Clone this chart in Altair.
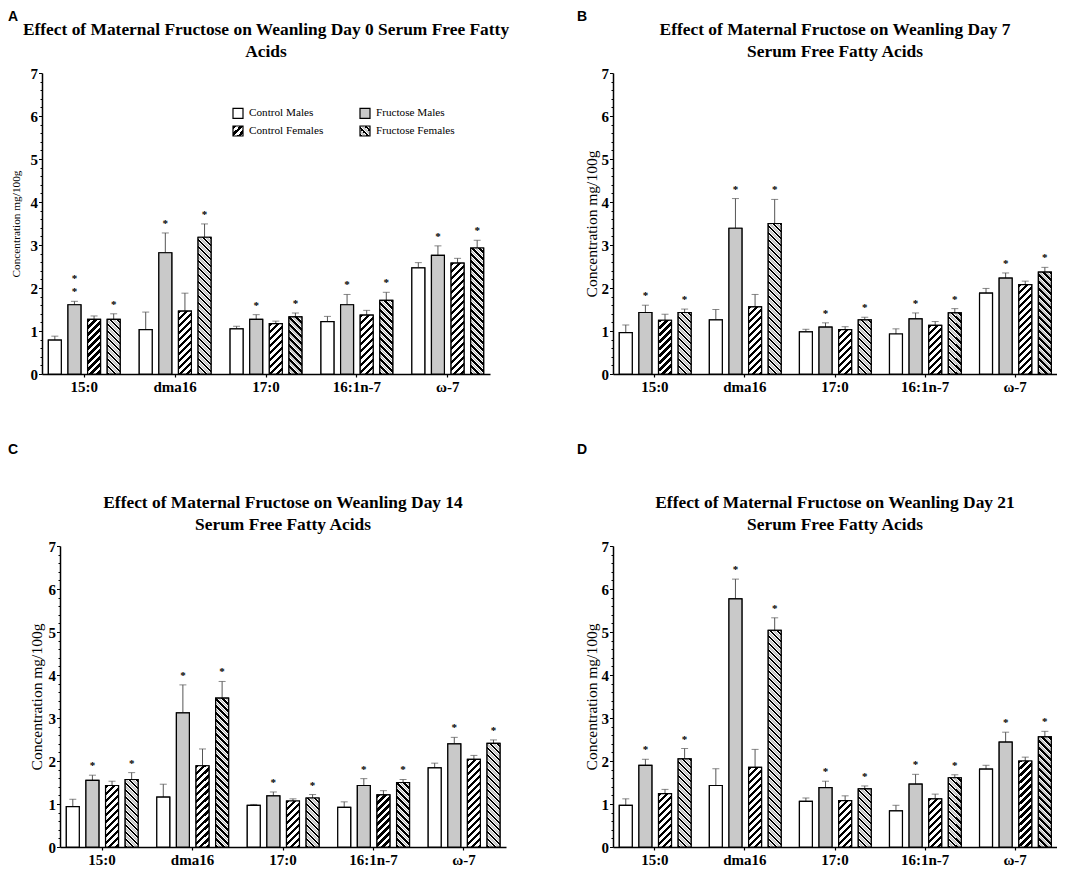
import altair as alt

SERIF = "Liberation Serif"
SANS = "Liberation Sans"
GRAY = "#c9c9c9"
ERR = "#555555"

categories = ["15:0", "dma16", "17:0", "16:1n-7", "ω-7"]
groups = ["Control Males", "Fructose Males", "Control Females", "Fructose Females"]
legend_order = ["Control Males", "Control Females", "Fructose Males", "Fructose Females"]

# rows follow `groups`, columns follow `categories`
day0_means = [[0.79, 1.03, 1.05, 1.22, 2.47],
              [1.61, 2.82, 1.27, 1.61, 2.76],
              [1.27, 1.46, 1.17, 1.37, 2.58],
              [1.27, 3.18, 1.33, 1.71, 2.93]]
day0_sems = [[0.09, 0.41, 0.06, 0.12, 0.12],
             [0.08, 0.46, 0.11, 0.24, 0.22],
             [0.08, 0.42, 0.06, 0.11, 0.11],
             [0.13, 0.31, 0.09, 0.19, 0.18]]
# number of significance asterisks
day0_sig = [[0, 0, 0, 0, 0],
            [2, 1, 1, 1, 1],
            [0, 0, 0, 0, 0],
            [1, 1, 1, 1, 1]]

day7_means = [[0.96, 1.26, 0.98, 0.93, 1.88],
              [1.43, 3.39, 1.09, 1.28, 2.23],
              [1.25, 1.56, 1.03, 1.13, 2.08],
              [1.43, 3.50, 1.26, 1.42, 2.37]]
day7_sems = [[0.18, 0.24, 0.06, 0.12, 0.11],
             [0.17, 0.69, 0.10, 0.14, 0.12],
             [0.14, 0.29, 0.07, 0.09, 0.08],
             [0.08, 0.56, 0.06, 0.10, 0.11]]
day7_sig = [[0, 0, 0, 0, 0],
            [1, 1, 1, 1, 1],
            [0, 0, 0, 0, 0],
            [1, 1, 1, 1, 1]]

day14_means = [[0.94, 1.16, 0.97, 0.92, 1.84],
               [1.55, 3.12, 1.19, 1.43, 2.40],
               [1.43, 1.89, 1.07, 1.21, 2.04],
               [1.57, 3.46, 1.14, 1.50, 2.41]]
day14_sems = [[0.17, 0.30, 0.02, 0.13, 0.11],
              [0.12, 0.65, 0.09, 0.16, 0.15],
              [0.10, 0.39, 0.05, 0.10, 0.09],
              [0.16, 0.39, 0.08, 0.07, 0.08]]
day14_sig = day7_sig

day21_means = [[0.97, 1.43, 1.06, 0.84, 1.81],
               [1.90, 5.77, 1.38, 1.46, 2.44],
               [1.24, 1.85, 1.08, 1.12, 2.00],
               [2.05, 5.04, 1.35, 1.61, 2.56]]
day21_sems = [[0.15, 0.39, 0.08, 0.13, 0.09],
              [0.14, 0.46, 0.15, 0.23, 0.23],
              [0.10, 0.42, 0.11, 0.11, 0.09],
              [0.24, 0.29, 0.07, 0.07, 0.13]]
day21_sig = day7_sig

y_title = "Concentration mg/100g"
YMAX = 7

# band layout
PI, PO, PI2 = 0.21, 0.07, 0.34


def bar_width(W):
    s = W / (len(categories) - PI + 2 * PO)
    band = s * (1 - PI)
    s2 = band / (len(groups) - PI2)
    return s2 * (1 - PI2)


def hatch(w, h, kind):
    L = w + h
    k = L / (w * w + h * h)
    if kind == "fwd":
        x1, y1, x2, y2 = 0, 0, k * w, k * h
        pattern = [(3.2, "black"), (3.8, "white")]
    else:
        x1, y1, x2, y2 = 0, 1, k * w, 1 - k * h
        pattern = [(2.6, "black"), (0.9, "white"), (2.6, GRAY), (0.9, "white")]
    stops = []
    s = 0.0
    done = False
    while not done:
        for seg, col in pattern:
            a = min(s / L, 1.0)
            b = min((s + seg) / L, 1.0)
            stops.append({"offset": round(a, 5), "color": col})
            stops.append({"offset": round(b, 5), "color": col})
            s += seg
            if s >= L:
                done = True
                break
    return {"gradient": "linear", "x1": round(x1, 5), "y1": round(y1, 5),
            "x2": round(x2, 5), "y2": round(y2, 5), "stops": stops}


def to_js(o):
    if isinstance(o, dict):
        return "{" + ",".join(f"{k}:{to_js(v)}" for k, v in o.items()) + "}"
    if isinstance(o, list):
        return "[" + ",".join(to_js(v) for v in o) + "]"
    if isinstance(o, str):
        return "'" + o + "'"
    return repr(o)


legend_fill = {"Control Males": "white", "Fructose Males": GRAY,
               "Control Females": {"expr": to_js(hatch(10, 10, "fwd"))},
               "Fructose Females": {"expr": to_js(hatch(10, 10, "back"))}}
legend_range = [legend_fill[g] for g in legend_order]

yvals = [round(i * 0.2, 1) for i in range(0, 36)]


def panel(means, sems, sig, title_lines, W, H, ytsize, ytpad, shift=0):
    bw = bar_width(W)
    recs = []
    for gi, g in enumerate(groups):
        for ci, c in enumerate(categories):
            m = means[gi][ci]
            h = m / YMAX * H
            if gi == 0:
                fv = "white"
            elif gi == 1:
                fv = GRAY
            elif gi == 2:
                fv = hatch(bw, h, "fwd")
            else:
                fv = hatch(bw, h, "back")
            recs.append({"cat": c, "grp": g, "mean": m, "sem": sems[gi][ci],
                         "top": round(m + sems[gi][ci], 3),
                         "nsig": sig[gi][ci], "fillv": fv})
    data = alt.Data(values=recs)

    xscale = alt.Scale(paddingInner=PI, paddingOuter=PO)
    if shift:
        xscale = alt.Scale(paddingInner=PI, paddingOuter=PO, range=[shift, shift + W])
    x = alt.X("cat:N", sort=categories, scale=xscale,
              axis=alt.Axis(title=None, labelAngle=0, labelFont=SERIF, labelFontSize=15,
                            labelFontWeight="bold", labelColor="black", labelPadding=2,
                            tickSize=3, tickColor="black", domainColor="black",
                            domainWidth=1.5, tickWidth=1.2))
    xo = alt.XOffset("grp:N", sort=groups, scale=alt.Scale(paddingInner=PI2, paddingOuter=0))
    yscale = alt.Scale(domain=[0, YMAX], nice=False)
    yaxis = alt.Axis(values=yvals, labelOverlap=False, offset=-shift,
                     labelExpr="datum.value % 1 === 0 ? '' + datum.value : ''",
                     tickSize={"condition": {"test": "datum.value % 1 === 0", "value": 3.5},
                               "value": 2},
                     tickColor="black", tickWidth=1, domainColor="black", domainWidth=1.5,
                     labelFont=SERIF, labelFontSize=15, labelFontWeight="bold",
                     labelColor="black", labelPadding=1,
                     title=y_title, titleFont=SERIF, titleFontSize=ytsize,
                     titleFontWeight="normal", titleColor="black", titlePadding=ytpad)
    y = alt.Y("mean:Q", stack=None, scale=yscale, axis=yaxis)
    ytop = alt.Y("top:Q", stack=None, scale=yscale, axis=yaxis)

    legend = alt.Legend(title=None, orient="none", legendX=190 + shift, legendY=34, columns=2,
                        symbolType="square", symbolSize=100, symbolStrokeColor="black",
                        symbolStrokeWidth=1.2, labelFont=SERIF, labelFontSize=11.2,
                        labelColor="black", labelOffset=5, columnPadding=33, rowPadding=2,
                        padding=0)

    base_bars = alt.Chart().mark_bar(stroke="black", strokeWidth=1.2).encode(
        x=x, xOffset=xo, y=y,
        fill=alt.Fill("grp:N", scale=alt.Scale(domain=legend_order, range=legend_range),
                      legend=legend))
    hatch_bars = alt.Chart().mark_bar(stroke="black", strokeWidth=1.2).encode(
        x=x, xOffset=xo, y=y, fill=alt.Fill("fillv:N", scale=None))
    rules = alt.Chart().mark_rule(color=ERR, strokeWidth=1).encode(
        x=x, xOffset=xo, y=y, y2="top:Q")
    caps = alt.Chart().mark_tick(color=ERR, thickness=1, size=7, orient="horizontal").encode(
        x=x, xOffset=xo, y=ytop)
    star_kw = dict(font=SERIF, fontSize=11, fontWeight="bold", baseline="bottom",
                   color="black", text="*")
    stars1 = alt.Chart().transform_filter("datum.nsig >= 1").mark_text(
        dy=-4, **star_kw).encode(x=x, xOffset=xo, y=ytop)
    stars2 = alt.Chart().transform_filter("datum.nsig >= 2").mark_text(
        dy=-17, **star_kw).encode(x=x, xOffset=xo, y=ytop)

    return alt.layer(rules, caps, base_bars, hatch_bars, stars1, stars2, data=data).properties(
        width=W + shift, height=H,
        title=alt.TitleParams(title_lines, anchor="middle", frame="group", font=SERIF,
                              fontSize=17.4, fontWeight="bold", color="black",
                              lineHeight=22, offset=5.5, dx=shift / 2))


def wrap(ch, letter, dx, offset):
    return alt.vconcat(ch, title=alt.TitleParams(letter, anchor="start", frame="bounds",
                                                 font=SANS, fontSize=14, fontWeight="bold",
                                                 color="black", dx=dx, offset=offset))


pA = panel(day0_means, day0_sems, day0_sig,
           ["Effect of Maternal Fructose on Weanling Day 0 Serum Free Fatty", "Acids"],
           448, 301, 11.3, 9)
pB = panel(day7_means, day7_sems, day7_sig,
           ["Effect of Maternal Fructose on Weanling Day 7", "Serum Free Fatty Acids"],
           444, 301, 15.5, 2)
pC = panel(day14_means, day14_sems, day14_sig,
           ["Effect of Maternal Fructose on Weanling Day 14", "Serum Free Fatty Acids"],
           446, 301, 15.5, 4, shift=18)
pD = panel(day21_means, day21_sems, day21_sig,
           ["Effect of Maternal Fructose on Weanling Day 21", "Serum Free Fatty Acids"],
           444, 301, 15.5, 2)

chart = alt.ConcatChart(
    concat=[wrap(pA, "A", -2, -3), wrap(pB, "B", -7, -3),
            wrap(pC, "C", -21, 37), wrap(pD, "D", -7, 37)],
    columns=2, align="none", spacing={"row": 49, "column": 67},
).properties(
    padding={"left": 0, "top": 2, "right": 0, "bottom": 0},
    background="white",
).configure_view(stroke=None).configure_axis(grid=False)

chart.save("out.html", embed_options={"renderer": "svg", "actions": False})
